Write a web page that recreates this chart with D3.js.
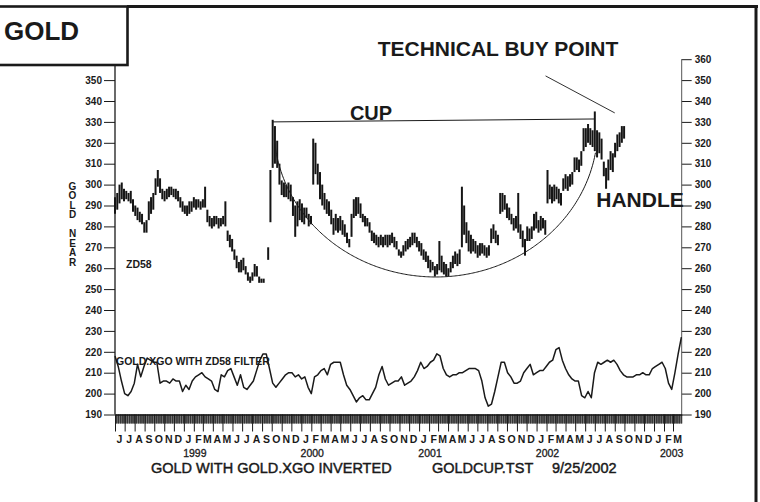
<!DOCTYPE html>
<html lang="en">
<head>
<meta charset="utf-8">
<title>Gold - cup and handle</title>
<script src="https://d3js.org/d3.v7.min.js"></script>
<style>
  body { margin: 0; background: #fff; }
  svg { display: block; font-family: "Liberation Sans", Arial, Helvetica, sans-serif; }
  .axis text { font-size: 10px; font-weight: bold; fill: #1a1a1a; }
  .axis line, .axis path { stroke: #1a1a1a; }
</style>
</head>
<body>
<div id="chart"></div>
<script>
// weekly gold bars (low / high), first week starts 1998-06-01, null = no data
const priceStart = "1998-06-01";
const priceLow = [
  286,288,291,293,292,293,292,291,287,285, 283,282,281,277,277,283,286,288,295,299,
  296,293,292,293,294,295,294,293,292,289, 287,286,285,286,287,289,288,289,288,289,
  289,282,280,279,280,281,279,280,281,280, 273,270,268,264,260,258,258,259,257,254,
  253,254,256,256,253,253,253,null,264,282, 308,310,308,300,295,294,294,293,292,285,
  275,280,283,282,281,284,280,281,300,305, 300,293,290,288,286,285,281,276,278,277,
  278,276,275,272,270,275,284,285,286,284, 282,280,280,277,273,272,271,270,271,270,
  271,270,271,272,270,269,266,265,266,268, 269,270,271,272,270,268,266,264,263,260,
  258,259,256,257,259,258,257,256,256,258, 260,262,261,262,270,276,272,268,267,268,
  267,265,266,267,266,265,266,272,274,272, 271,286,287,288,284,283,281,278,279,277,
  274,270,266,273,273,274,278,279,277,278, 279,276,291,293,291,292,293,291,290,297,
  298,297,299,300,306,307,306,309,316,318, 320,319,318,316,313,315,312,304,298,302,
  307,306,313,316,318,320,322
];
const priceHigh = [
  294,296,300,301,298,297,296,297,293,290, 289,287,286,282,283,292,294,296,303,307,
  303,298,297,298,299,299,298,298,297,294, 292,290,290,292,292,294,293,293,292,293,
  299,288,285,284,285,285,284,284,285,292, 278,276,274,269,266,263,264,265,261,258,
  256,258,262,261,256,255,255,null,270,307, 331,328,321,310,302,301,300,301,300,294,
  290,292,293,291,289,289,286,285,322,320, 310,306,300,296,293,292,288,284,286,284,
  285,283,281,277,274,286,293,294,294,291, 286,285,284,282,278,277,276,275,276,275,
  276,276,276,277,275,273,269,268,271,273, 274,275,277,277,275,273,272,269,268,266,
  264,263,261,262,273,266,263,262,260,263, 266,268,267,269,299,290,282,278,276,274,
  273,271,272,272,271,270,271,279,281,278, 276,296,296,295,291,289,286,284,285,296,
  281,278,274,280,279,280,286,287,283,285, 284,283,307,300,299,300,299,298,296,303,
  305,304,305,306,313,313,312,316,327,327, 329,327,326,335,326,325,322,311,308,312,
  316,315,320,324,325,328,328
];

// GOLD.XGO oscillator, one value every 10 days from 1998-06-01
const oscStart = "1998-06-01";
const oscStepDays = 10;
const oscValues = [
  218,213,206,200,199,201,205,214,208,213, 217,216,215,215,205,206,206,205,207,206,
  206,201,204,202,206,208,209,210,208,207, 206,202,201,209,208,211,212,208,204,209,
  203,202,204,206,211,216,219,219,212,205, 203,205,207,209,210,210,208,209,207,208,
  203,200,208,209,211,212,209,214,215,215, 215,209,204,202,199,196,198,199,197,197,
  200,203,209,213,207,204,205,206,206,208, 204,205,206,208,211,215,212,213,215,216,
  219,218,212,209,208,209,209,210,210,211, 212,212,212,211,206,198,194,195,201,208,
  215,215,210,208,205,205,206,210,212,214, 209,210,211,211,213,215,216,221,222,216,
  212,209,207,206,206,199,198,201,198,210, 215,214,215,216,215,216,214,211,209,208,
  208,208,209,209,210,209,209,212,213,214, 215,212,205,202,210,219,227
];

const leftTicks = d3.range(190, 351, 10);
const rightTicks = d3.range(190, 361, 10);
const monthInitials = ["J","F","M","A","M","J","J","A","S","O","N","D"];
const yearLabels = ["1999", "2000", "2001", "2002", "2003"];
const yearLabelDates = ["1999-02-04", "2000-02-04", "2001-02-04", "2002-02-04", "2003-02-25"];

// annotations, in data units
const cupRim = [["1999-10-04", 330], ["2002-07-01", 331.4]];
const buyPointLine = [["2002-01-29", 352], ["2002-09-01", 334.3]];
const cupArc = {center: "2001-02-22", value: 327.1, rxDays: 503, ryValue: 71.3, from: "1999-10-10", to: "2002-07-03"};

const width = 760, height = 502;
const parse = d3.timeParse("%Y-%m-%d");
const dayOff = (s, n) => d3.timeDay.offset(parse(s), n);

const x = d3.scaleTime()
  .domain([parse("1998-06-01"), parse("2003-03-28")])
  .range([115, 681.7]);
const y = d3.scaleLinear()
  .domain([190, 360])
  .range([414.5, 59.2]);

const svg = d3.select("#chart").append("svg")
  .attr("width", width)
  .attr("height", height)
  .attr("viewBox", [0, 0, width, height]);

// frame + title box
svg.append("line").attr("x1", 127).attr("x2", 758).attr("y1", 6.5).attr("y2", 6.5)
  .attr("stroke", "#1a1a1a").attr("stroke-width", 3);
svg.append("line").attr("x1", 756).attr("x2", 756).attr("y1", 5).attr("y2", height)
  .attr("stroke", "#1a1a1a").attr("stroke-width", 3);
svg.append("rect").attr("x", -4).attr("y", 6.5).attr("width", 131.5).attr("height", 58.5)
  .attr("fill", "#fff").attr("stroke", "#1a1a1a").attr("stroke-width", 2.6);
svg.append("text").attr("x", 4).attr("y", 40)
  .attr("font-size", 26).attr("font-weight", "bold").attr("fill", "#1a1a1a")
  .text("GOLD");

// left axis
svg.append("g").attr("class", "axis")
  .attr("transform", "translate(115,0)")
  .call(d3.axisLeft(y).tickValues(leftTicks).tickSize(11).tickPadding(2))
  .call(g => g.select(".domain").remove());
svg.append("line").attr("x1", 115).attr("x2", 115).attr("y1", 65).attr("y2", y(190))
  .attr("stroke", "#1a1a1a").attr("stroke-width", 1.3);

// right axis
svg.append("g").attr("class", "axis")
  .attr("transform", "translate(681.7,0)")
  .call(d3.axisRight(y).tickValues(rightTicks).tickSize(10).tickPadding(3))
  .call(g => g.select(".domain").remove());
svg.append("line").attr("x1", 681.7).attr("x2", 681.7).attr("y1", y(360)).attr("y2", y(190))
  .attr("stroke", "#555").attr("stroke-width", 1);

// bottom axis: trading-day ticks, month ticks
const axisEnd = parse("2003-03-28");
const tradingDays = d3.timeDay.range(parse("1998-06-01"), axisEnd).filter(d => d.getDay() % 6 !== 0);
svg.append("g").attr("class", "axis")
  .attr("transform", `translate(0,${y(190)})`)
  .call(d3.axisBottom(x).tickValues(tradingDays).tickSize(9).tickSizeOuter(0).tickFormat(""))
  .call(g => g.selectAll(".tick line").attr("stroke-width", 0.55))
  .call(g => g.select(".domain").attr("stroke-width", 1.3));
const monthStarts = d3.timeMonth.range(parse("1998-06-01"), axisEnd);
svg.append("g").attr("class", "axis")
  .attr("transform", `translate(0,${y(190)})`)
  .call(d3.axisBottom(x).tickValues(monthStarts).tickSize(17).tickFormat(""))
  .call(g => g.select(".domain").remove());
svg.append("g")
  .selectAll("text").data(monthStarts).join("text")
  .attr("x", d => x(d3.timeDay.offset(d, 14)))
  .attr("y", 443)
  .attr("text-anchor", "middle")
  .attr("font-size", 10.5).attr("font-weight", "bold").attr("fill", "#1a1a1a")
  .text(d => monthInitials[d.getMonth()]);
svg.append("g")
  .selectAll("text").data(yearLabels).join("text")
  .attr("x", (d, i) => x(parse(yearLabelDates[i])))
  .attr("y", 456.5)
  .attr("text-anchor", "middle")
  .attr("font-size", 10.5).attr("fill", "#1a1a1a")
  .attr("stroke", "#1a1a1a").attr("stroke-width", 0.3)
  .text(d => d);

// price bars
const bars = priceHigh.map((h, i) => ({date: dayOff(priceStart, 7 * i), hi: h, lo: priceLow[i]}))
  .filter(d => d.hi != null);
svg.append("g")
  .attr("stroke", "#151515")
  .attr("stroke-width", 2)
  .selectAll("line").data(bars).join("line")
  .attr("x1", d => x(d.date)).attr("x2", d => x(d.date))
  .attr("y1", d => y(d.hi)).attr("y2", d => y(d.lo));

// oscillator
const oscLine = d3.line()
  .x((d, i) => x(dayOff(oscStart, i * oscStepDays)))
  .y(d => y(d));
svg.append("path")
  .attr("fill", "none")
  .attr("stroke", "#1a1a1a")
  .attr("stroke-width", 1.5)
  .attr("stroke-linejoin", "round")
  .attr("d", oscLine(oscValues));

// cup rim, buy point pointer, cup arc
const seg = d3.line().x(d => x(parse(d[0]))).y(d => y(d[1]));
svg.append("path").attr("fill", "none").attr("stroke", "#1a1a1a").attr("stroke-width", 1)
  .attr("d", seg(cupRim));
svg.append("path").attr("fill", "none").attr("stroke", "#1a1a1a").attr("stroke-width", 0.9)
  .attr("d", seg(buyPointLine));
const c0 = parse(cupArc.center);
const a0 = d3.timeDay.count(c0, parse(cupArc.from));
const a1 = d3.timeDay.count(c0, parse(cupArc.to));
const arcPts = d3.range(a0, a1 + 1, 4).concat([a1]).map(dd => {
  const u = Math.max(-1, Math.min(1, dd / cupArc.rxDays));
  return [d3.timeDay.offset(c0, dd), cupArc.value - cupArc.ryValue * Math.sqrt(1 - u * u)];
});
svg.append("path").attr("fill", "none").attr("stroke", "#1a1a1a").attr("stroke-width", 1)
  .attr("d", d3.line().x(d => x(d[0])).y(d => y(d[1])).curve(d3.curveMonotoneX)(arcPts));

// labels
const label = (t, px, py, size, anchor, weight) => svg.append("text")
  .attr("x", px).attr("y", py)
  .attr("font-size", size).attr("font-weight", weight || "bold")
  .attr("text-anchor", anchor || "start").attr("fill", "#1a1a1a")
  .text(t);
label("TECHNICAL BUY POINT", 498, 55.5, 21, "middle");
label("CUP", 371, 120, 20, "middle");
label("HANDLE", 640, 207, 21, "middle");
label("ZD58", 126, 268, 10.5);
label("GOLD.XGO WITH ZD58 FILTER", 116, 365, 10.5);
label("GOLD WITH GOLD.XGO INVERTED", 151, 473, 14.5, "start", "normal")
  .attr("stroke", "#1a1a1a").attr("stroke-width", 0.45);
label("GOLDCUP.TST", 432, 473, 14.5, "start", "normal")
  .attr("stroke", "#1a1a1a").attr("stroke-width", 0.45);
label("9/25/2002", 552, 473, 14.5, "start", "normal")
  .attr("stroke", "#1a1a1a").attr("stroke-width", 0.45);

const sideTitle = ["G", "O", "L", "D", "", "N", "E", "A", "R"];
svg.append("g")
  .selectAll("text").data(sideTitle).join("text")
  .attr("x", 72.5)
  .attr("y", (d, i) => 189.5 + i * 9.5)
  .attr("text-anchor", "middle")
  .attr("font-size", 10).attr("font-weight", "bold").attr("fill", "#1a1a1a")
  .text(d => d);
</script>
</body>
</html>
